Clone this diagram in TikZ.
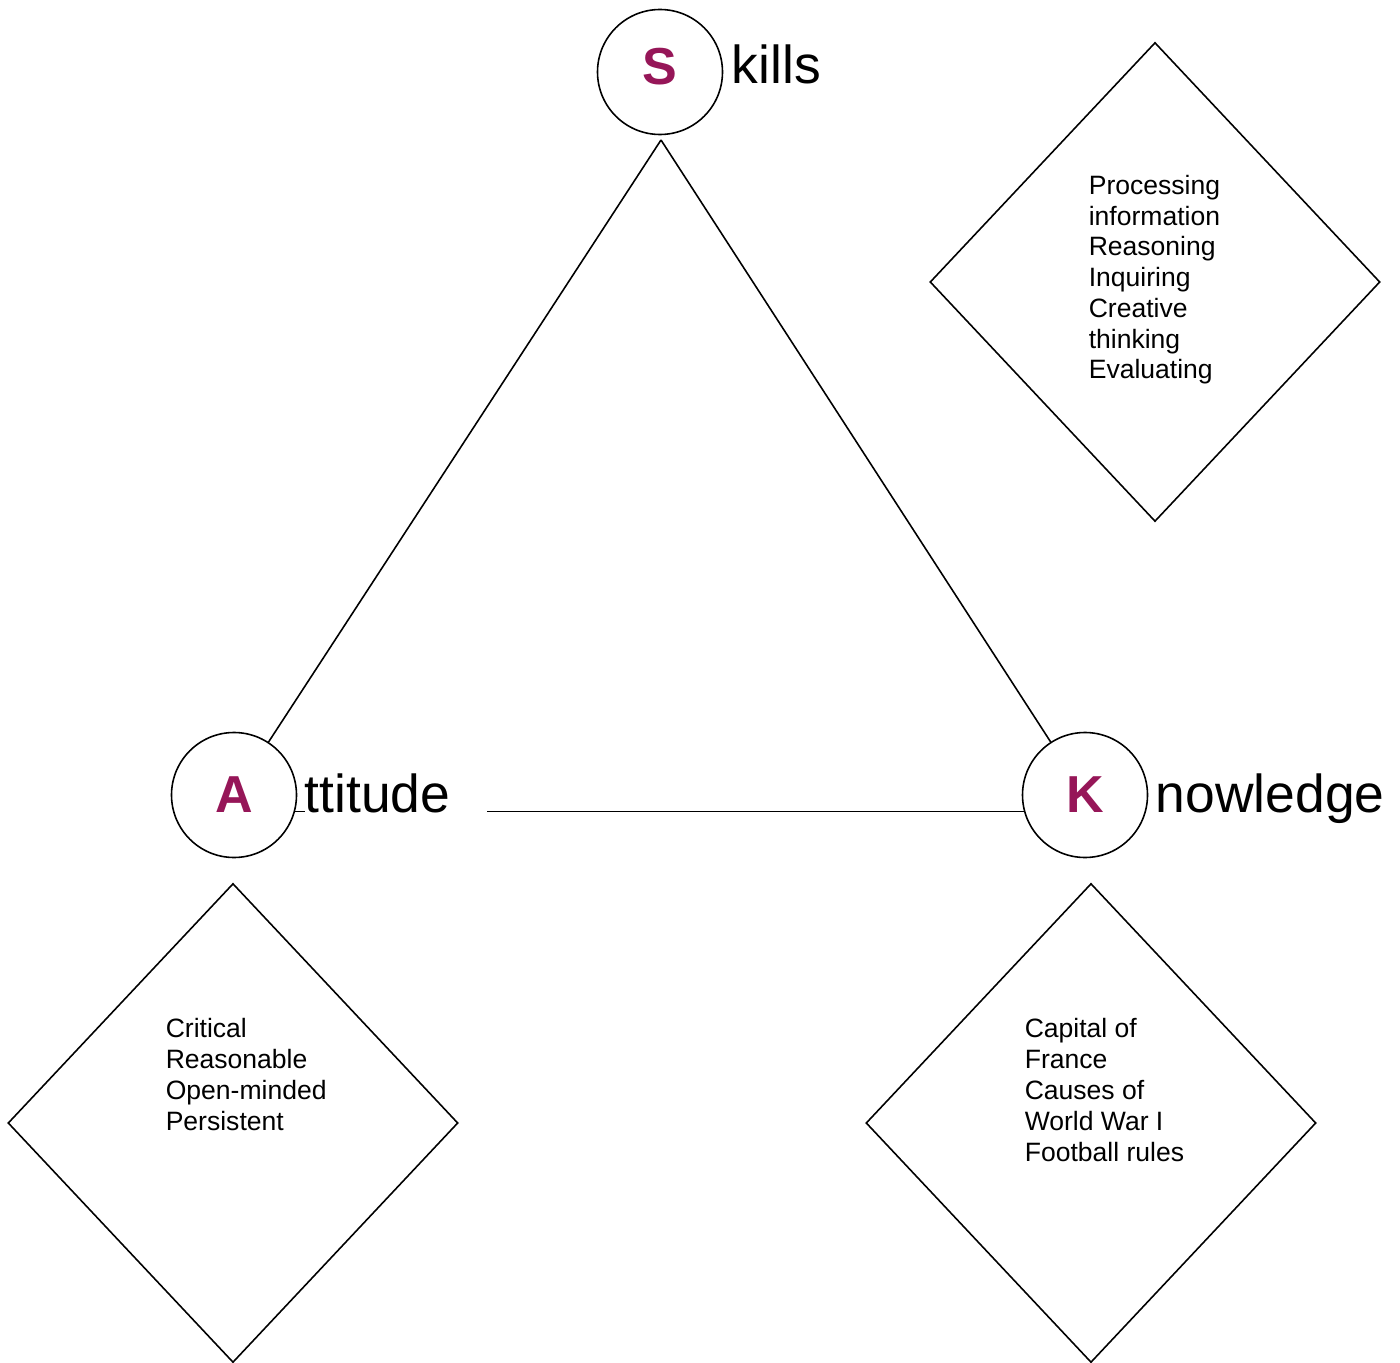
\documentclass[tikz,border=0pt]{standalone}
\usepackage{fontspec}
\setmainfont{Liberation Sans}
\usetikzlibrary{shapes.geometric}
\definecolor{plum}{RGB}{150,22,88}
\begin{document}
\begin{tikzpicture}[x=0.2mm, y=-0.2mm,
  every path/.style={line width=0.9pt},
  pole/.style={circle, draw, minimum size=25mm, inner sep=0pt,
    font=\fontsize{29.6}{34}\selectfont\bfseries, text=plum},
  word/.style={anchor=base west, inner sep=0pt,
    font=\fontsize{30.4}{36}\selectfont},
  facet/.style={diamond, draw, inner sep=0pt, minimum width=90mm, minimum height=95.8mm},
  items/.style={anchor=base west, inner sep=0pt, align=left,
    font=\fontsize{15.1}{17.5}\selectfont}]
\useasboundingbox (0,0) rectangle (1400,1363);

% the three poles
\node[pole] (S) at (660,72) {\raisebox{6pt}{S}};
\node[pole] (A) at (234,795) {A};
\node[pole] (K) at (1085,795) {K};
\coordinate (apex) at (661,140);

% triangle sides
\draw (apex) -- (A);
\draw (apex) -- (K);
\draw (A.-15.6) -- (K.195.6);

% rest of each word
\node[word] (skills) at (731,84) {kills};
\node[word, fill=white, text width=36.4mm, text depth=4pt] (attitude) at (304,812) {ttitude};
\node[word] (knowledge) at (1155,812) {nowledge};

% facets
\node[facet] (dS) at (1155,282) {};
\node[facet] (dA) at (233,1123) {};
\node[facet] (dK) at (1091,1123) {};

% item lists (anchored on the baseline of their last line)
\node[items] (tS) at (1088,379) {Processing\\information\\Reasoning\\Inquiring\\Creative\\thinking\\Evaluating};
\node[items] (tA) at (165,1130) {Critical\\Reasonable\\Open-minded\\Persistent};
\node[items] (tK) at (1024,1161) {Capital of\\France\\Causes of\\World War I\\Football rules};
\end{tikzpicture}
\end{document}
